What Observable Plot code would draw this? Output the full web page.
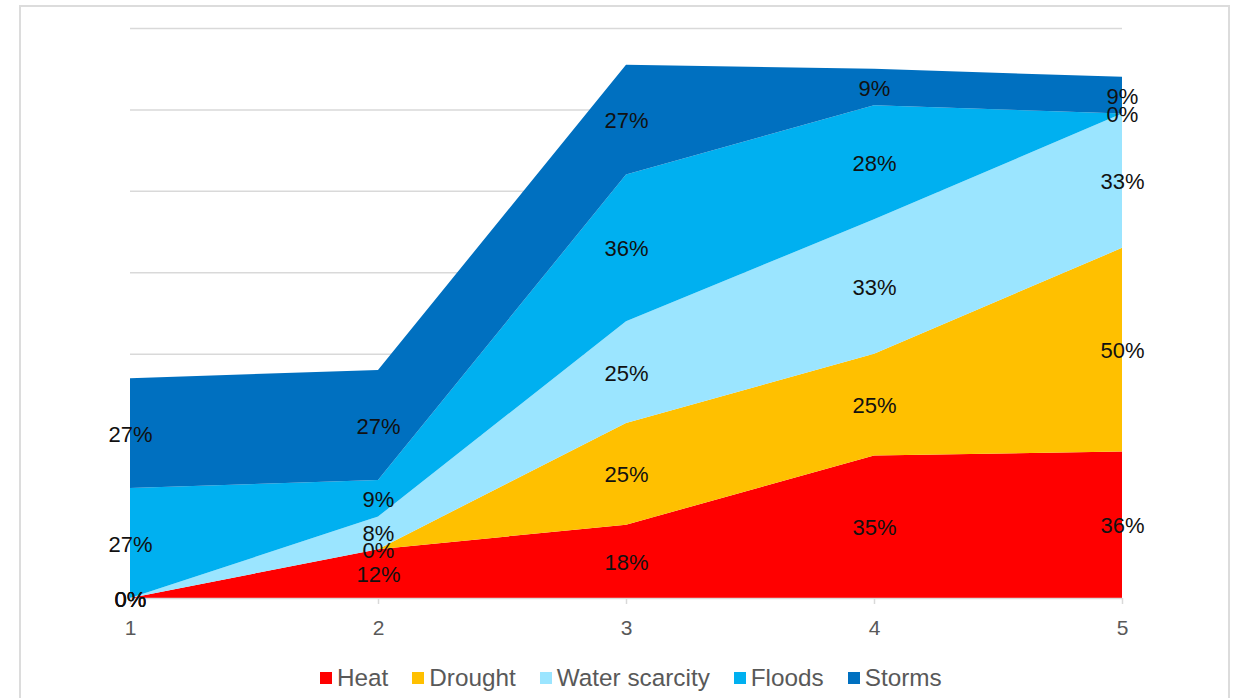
<!DOCTYPE html>
<html>
<head>
<meta charset="utf-8">
<script src="https://cdn.jsdelivr.net/npm/d3@7"></script>
<script src="https://cdn.jsdelivr.net/npm/@observablehq/plot@0.6"></script>
<style>
html, body { margin: 0; padding: 0; background: #fff; overflow: hidden; }
#wrap { position: relative; width: 1236px; height: 698px; }
#frame { position: absolute; left: 19px; top: 5px; width: 1211px; height: 740px; border: 2px solid #dcdcdc; box-sizing: border-box; pointer-events: none; }
#legend { position: absolute; left: 320px; top: 663px; height: 30px; display: flex; align-items: center;
  font-family: "Liberation Sans", Arial, sans-serif; font-size: 24.3px; color: #595959; white-space: nowrap; }
.item { display: flex; align-items: center; margin-right: 24px; }
.sw { width: 12px; height: 12px; margin-right: 5px; }
</style>
</head>
<body>
<div id="wrap">
  <div id="chart"></div>
  <div id="legend"></div>
  <div id="frame"></div>
</div>
<script>
// Categories (x positions) and tick labels
const xValues = [1, 2, 3, 4, 5];
const xTickLabels = ["1", "2", "3", "4", "5"];

// Series (stacked bottom to top)
const seriesNames = ["Heat", "Drought", "Water scarcity", "Floods", "Storms"];
const seriesColors = ["#FF0000", "#FFC000", "#9BE5FF", "#00B0F0", "#0070C0"];

// Values (percent)
const heat = [0, 12, 18, 35, 36];
const drought = [0, 0, 25, 25, 50];
const waterScarcity = [0, 8, 25, 33, 33];
const floods = [27, 9, 36, 28, 0];
const storms = [27, 27, 27, 9, 9];

// Grid lines (value positions)
const gridValues = [20, 40, 60, 80, 100, 120, 140];

const seriesValues = [heat, drought, waterScarcity, floods, storms];

const rows = [];
seriesNames.forEach((s, j) => {
  xValues.forEach((x, i) => rows.push({x, series: s, value: seriesValues[j][i]}));
});

// label rows at band midpoints
const labelRows = [];
xValues.forEach((x, i) => {
  let c = 0;
  seriesNames.forEach((s, j) => {
    const v = seriesValues[j][i];
    labelRows.push({x, y: c + v / 2, text: v + "%"});
    c += v;
  });
});

const chart = Plot.plot({
  width: 1236,
  height: 698,
  marginLeft: 130,
  marginRight: 114,
  marginTop: 28,
  marginBottom: 100,
  style: {background: "transparent"},
  x: {domain: [1, 5], label: null},
  y: {domain: [0, 140], axis: null},
  color: {domain: seriesNames, range: seriesColors},
  marks: [
    Plot.ruleY(gridValues, {stroke: "#d9d9d9", strokeWidth: 1.5}),
    Plot.areaY(rows, {x: "x", y: "value", z: "series", fill: "series", order: seriesNames}),
    Plot.ruleY([0], {stroke: "#d9d9d9", strokeWidth: 1.5}),
    Plot.axisX({
      ticks: xValues,
      tickFormat: (d) => xTickLabels[xValues.indexOf(d)],
      tickSize: 6,
      tickPadding: 16,
      stroke: "#d9d9d9",
      strokeWidth: 1.5,
      fill: "#595959",
      fontSize: 21,
      fontFamily: "Liberation Sans, Arial, sans-serif",
      label: null
    }),
    Plot.text(labelRows, {
      x: "x", y: "y", text: "text",
      fontSize: 22,
      dy: 1,
      fill: "#111",
      fontFamily: "Liberation Sans, Arial, sans-serif"
    })
  ]
});
document.getElementById("chart").appendChild(chart);

const legend = document.getElementById("legend");
seriesNames.forEach((s, j) => {
  const item = document.createElement("div");
  item.className = "item";
  const sw = document.createElement("div");
  sw.className = "sw";
  sw.style.background = seriesColors[j];
  const t = document.createElement("span");
  t.textContent = s;
  item.appendChild(sw);
  item.appendChild(t);
  legend.appendChild(item);
});
</script>
</body>
</html>
